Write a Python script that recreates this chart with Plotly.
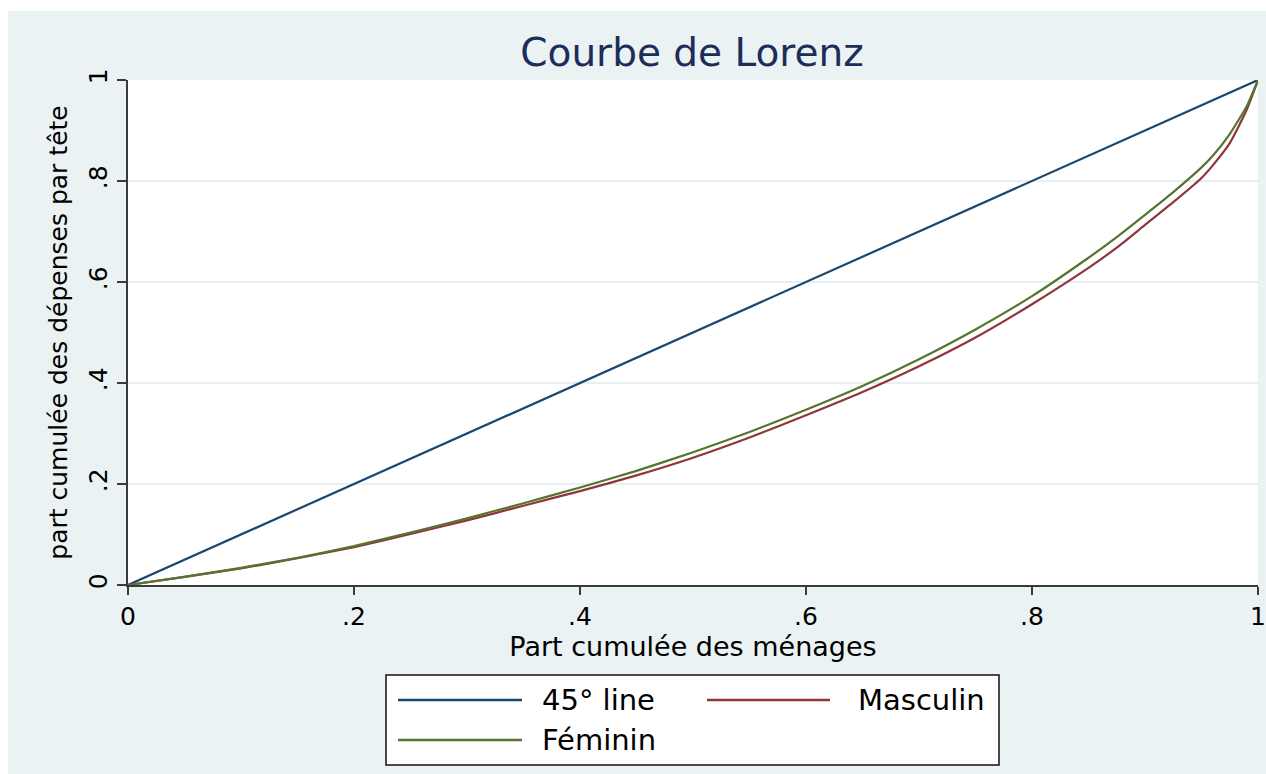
import plotly.graph_objects as go

# Cumulative share of households (x) and cumulative share of per-capita spending (y)
part_menages = [0.0, 0.05, 0.10, 0.15, 0.20, 0.25, 0.30, 0.35, 0.40, 0.45, 0.50,
                0.55, 0.60, 0.65, 0.70, 0.75, 0.80, 0.85, 0.875, 0.90, 0.925, 0.95,
                0.96, 0.975, 0.99, 1.0]
masculin = [0.0, 0.016, 0.033, 0.053, 0.075, 0.101, 0.128, 0.157, 0.186, 0.217, 0.252,
            0.292, 0.336, 0.382, 0.433, 0.490, 0.556, 0.628, 0.668, 0.713, 0.758, 0.806,
            0.831, 0.875, 0.941, 1.0]
feminin = [0.0, 0.016, 0.034, 0.054, 0.077, 0.104, 0.132, 0.162, 0.193, 0.226, 0.263,
           0.303, 0.347, 0.394, 0.447, 0.506, 0.572, 0.648, 0.689, 0.733, 0.778, 0.827,
           0.850, 0.893, 0.948, 1.0]
egalite_x = [0.0, 0.2, 0.4, 0.6, 0.8, 1.0]
egalite_y = [0.0, 0.2, 0.4, 0.6, 0.8, 1.0]

tick_vals = [0, 0.2, 0.4, 0.6, 0.8, 1]
tick_text = ["0", ".2", ".4", ".6", ".8", "1"]

legend_labels = ["45° line", "Masculin", "Féminin"]

NAVY = "#1A476F"
MAROON = "#90353B"
GREEN = "#55752F"
BG = "#EAF2F3"
FONT = "DejaVu Sans"

W, H = 1266, 774
L, R, T, B = 128, 8, 80, 189
PW, PH = W - L - R, H - T - B


def px(x):
    return (x - L) / PW


def py(y):
    return (H - B - y) / PH


fig = go.Figure()
fig.add_trace(go.Scatter(x=egalite_x, y=egalite_y, mode="lines",
                         line=dict(color=NAVY, width=2.2), name=legend_labels[0]))
fig.add_trace(go.Scatter(x=part_menages, y=masculin, mode="lines",
                         line=dict(color=MAROON, width=2.2, shape="spline", smoothing=0.5),
                         name=legend_labels[1]))
fig.add_trace(go.Scatter(x=part_menages, y=feminin, mode="lines",
                         line=dict(color=GREEN, width=2.2, shape="spline", smoothing=0.5),
                         name=legend_labels[2]))

shapes = [
    # white border strips at the top and left of the graph region
    dict(type="rect", xref="paper", yref="paper", x0=px(0), x1=px(8), y0=py(H), y1=py(0),
         fillcolor="white", line=dict(width=0)),
    dict(type="rect", xref="paper", yref="paper", x0=px(0), x1=px(W), y0=py(11), y1=py(0),
         fillcolor="white", line=dict(width=0)),
    # legend box
    dict(type="rect", xref="paper", yref="paper", x0=px(386), x1=px(999), y0=py(765), y1=py(675),
         fillcolor="white", line=dict(color="#111111", width=1.5)),
    dict(type="line", xref="paper", yref="paper", x0=px(398), x1=px(522), y0=py(700), y1=py(700),
         line=dict(color=NAVY, width=2.5)),
    dict(type="line", xref="paper", yref="paper", x0=px(707), x1=px(830), y0=py(700), y1=py(700),
         line=dict(color=MAROON, width=2.5)),
    dict(type="line", xref="paper", yref="paper", x0=px(398), x1=px(522), y0=py(740), y1=py(740),
         line=dict(color=GREEN, width=2.5)),
]

legend_font = dict(size=29, color="black", family=FONT)
annotations = [
    dict(text=legend_labels[0], xref="paper", yref="paper", x=px(540), y=py(700),
         xanchor="left", yanchor="middle", showarrow=False, font=legend_font),
    dict(text=legend_labels[1], xref="paper", yref="paper", x=px(987), y=py(700),
         xanchor="right", yanchor="middle", showarrow=False, font=legend_font),
    dict(text=legend_labels[2], xref="paper", yref="paper", x=px(540), y=py(740),
         xanchor="left", yanchor="middle", showarrow=False, font=legend_font),
]

fig.update_layout(
    width=W, height=H,
    autosize=False,
    margin=dict(l=L, r=R, t=T, b=B, pad=0, autoexpand=False),
    paper_bgcolor=BG,
    plot_bgcolor="white",
    showlegend=False,
    title=dict(text="Courbe de Lorenz", x=px(692), xref="paper", xanchor="center",
               y=1 - 52 / H, yref="container", yanchor="middle",
               font=dict(family=FONT, size=39, color="#1C2D5A")),
    shapes=shapes,
    annotations=annotations,
    font=dict(family=FONT, color="black"),
)

fig.update_xaxes(
    range=[0, 1], tickvals=tick_vals, ticktext=tick_text, automargin=False,
    showgrid=False, zeroline=False,
    showline=True, linecolor="#3a3a3a", linewidth=1.5,
    ticks="outside", ticklen=8, tickwidth=1.5, tickcolor="#3a3a3a",
    tickfont=dict(size=25, family=FONT, color="black"),
    title=dict(text="Part cumulée des ménages", font=dict(size=27, family=FONT, color="black"), standoff=1),
)
fig.update_yaxes(
    range=[0, 1], tickvals=tick_vals, ticktext=tick_text, tickangle=-90, automargin=False,
    showgrid=True, gridcolor="#E6EFF1", gridwidth=2, zeroline=False,
    showline=True, linecolor="#3a3a3a", linewidth=1.5,
    ticks="outside", ticklen=9, tickwidth=1.5, tickcolor="#3a3a3a",
    tickfont=dict(size=25, family=FONT, color="black"),
    title=dict(text="part cumulée des dépenses par tête", font=dict(size=25, family=FONT, color="black"),
               standoff=10),
)

fig.write_html("out.html")
